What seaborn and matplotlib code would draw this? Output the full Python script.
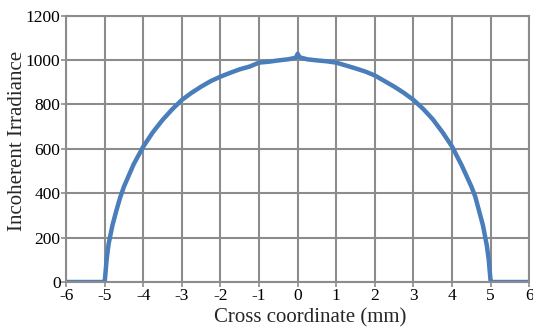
import matplotlib
matplotlib.use("Agg")
import matplotlib.pyplot as plt
import seaborn as sns
import pandas as pd

x_mm = [-6.0, -5.5, -5.05, -5.0, -4.95, -4.9, -4.8, -4.7, -4.6, -4.5, -4.25, -4.0, -3.75, -3.5,
        -3.25, -3.0, -2.75, -2.5, -2.25, -2.0, -1.75, -1.5, -1.25, -1.0, -0.75, -0.5, -0.25,
        -0.05, 0.0, 0.05, 0.25, 0.5, 0.75, 1.0, 1.25, 1.5, 1.75, 2.0, 2.25, 2.5, 2.75, 3.0,
        3.25, 3.5, 3.75, 4.0, 4.25, 4.5, 4.6, 4.7, 4.8, 4.9, 4.95, 5.0, 5.05, 5.5, 6.0]
irradiance = [0, 0, 0, 0, 100, 170, 255, 320, 380, 430, 530, 610, 675, 730,
              778, 820, 852, 880, 905, 925, 942, 958, 970, 988, 992, 998, 1003,
              1010, 1028, 1012, 1003, 998, 994, 988, 975, 962, 948, 930, 905, 880, 852, 820,
              780, 733, 675, 610, 525, 430, 385, 320, 255, 165, 100, 0, 0, 0, 0]

x_ticks = [-6, -5, -4, -3, -2, -1, 0, 1, 2, 3, 4, 5, 6]
y_ticks = [0, 200, 400, 600, 800, 1000, 1200]

sns.set_theme(style="whitegrid")
plt.rcParams['font.family'] = ['Liberation Serif', 'DejaVu Serif']

df = pd.DataFrame({"x": x_mm, "y": irradiance})
fig = plt.figure(figsize=(5.33, 3.31), dpi=100)
ax = fig.add_axes([0.124, 0.148, 0.869, 0.805])
sns.lineplot(data=df, x="x", y="y", ax=ax, color="#4a7ebb", linewidth=3.2, sort=False)

ax.set_xlim(-6, 6)
ax.set_ylim(0, 1200)
ax.set_xticks(x_ticks)
ax.set_yticks(y_ticks)
ax.set_xticklabels([str(t) for t in x_ticks], fontsize=12.5)
ax.set_yticklabels([str(t) for t in y_ticks], fontsize=12.5)
ax.grid(True, color="#8c8c8c", linewidth=1.5)
for s in ax.spines.values():
    s.set_color("#8c8c8c")
    s.set_linewidth(1.5)
ax.tick_params(axis="both", length=3.5, width=1.2, color="#8c8c8c", pad=0.5, labelcolor="black", left=True, bottom=True)
ax.set_xlabel("Cross coordinate (mm)", fontsize=15)
ax.set_ylabel("Incoherent Irradiance", fontsize=15)
ax.xaxis.set_label_coords(0.527, -0.098)
ax.yaxis.set_label_coords(-0.084, 0.528)
fig.savefig("out.png", dpi=100)
